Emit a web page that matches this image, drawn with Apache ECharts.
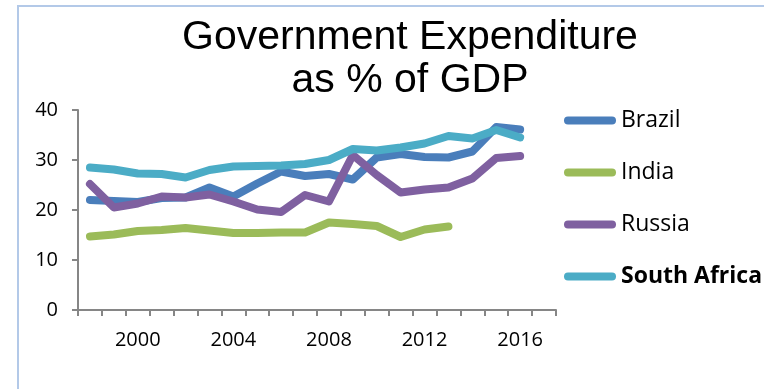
<!DOCTYPE html>
<html>
<head>
<meta charset="utf-8">
<script src="https://cdn.jsdelivr.net/npm/echarts@6/dist/echarts.min.js"></script>
<style>
  html, body { margin: 0; padding: 0; background: #fff; }
  #chart { width: 764px; height: 389px; }
</style>
</head>
<body>
<div id="chart"></div>
<script>
// categories (1998 - 2017, last slot is empty)
const years = ["1998", "1999", "2000", "2001", "2002", "2003", "2004", "2005", "2006", "2007",
  "2008", "2009", "2010", "2011", "2012", "2013", "2014", "2015", "2016", "2017"];

const brazil = [22.0, 21.8, 21.6, 22.4, 22.5, 24.5, 22.7, 25.3, 27.7, 26.8,
  27.2, 26.1, 30.5, 31.2, 30.6, 30.5, 31.7, 36.6, 36.1, null];
const india = [14.7, 15.1, 15.8, 16.0, 16.4, 15.9, 15.4, 15.4, 15.5, 15.5,
  17.5, 17.2, 16.8, 14.6, 16.1, 16.7, null, null, null, null];
const russia = [25.2, 20.5, 21.3, 22.7, 22.5, 23.1, 21.7, 20.1, 19.6, 23.0,
  21.7, 31.0, 27.0, 23.5, 24.1, 24.5, 26.3, 30.4, 30.8, null];
const southAfrica = [28.5, 28.1, 27.3, 27.2, 26.5, 28.0, 28.7, 28.8, 28.9, 29.2,
  30.0, 32.2, 31.9, 32.5, 33.3, 34.8, 34.3, 36.0, 34.5, null];

const yTicks = { min: 0, max: 40, step: 10 };
const labelYears = ["2000", "2004", "2008", "2012", "2016"];

const colors = ["#4a7ebb", "#9bbb59", "#7f60a0", "#4bacc6"];

const chart = echarts.init(document.getElementById("chart"));

function lineSeries(name, data, i) {
  return {
    name: name,
    type: "line",
    data: data,
    symbol: "none",
    color: colors[i],
    lineStyle: { width: 8, color: colors[i], cap: "round", join: "round" },
  };
}

chart.setOption({
  animation: false,
  backgroundColor: "#fff",
  textStyle: { fontFamily: "Open Sans" },

  title: {
    text: "Government Expenditure\nas % of GDP",
    left: 405,
    top: 11,
    textAlign: "center",
    textStyle: {
      fontFamily: "Liberation Sans",
      fontSize: 41,
      fontWeight: "normal",
      color: "#000",
      lineHeight: 43,
    },
  },

  graphic: [
    {
      type: "rect",
      shape: { x: 18, y: 6, width: 900, height: 600 },
      style: { fill: "none", stroke: "#b3c9e8", lineWidth: 2 },
      silent: true,
    },
  ],

  legend: {
    orient: "vertical",
    left: 564,
    top: 109,
    padding: 0,
    itemWidth: 52,
    itemHeight: 8,
    itemGap: 29,
    icon: "path://M4,0H48A4,4,0,0,1,48,8H4A4,4,0,0,1,4,0Z",
    textStyle: { fontFamily: "Open Sans", fontSize: 23, color: "#000" },
    data: [
      "Brazil",
      "India",
      "Russia",
      { name: "South Africa", textStyle: { fontWeight: "bold" } },
    ],
  },

  grid: { left: 78, right: 208, top: 110, bottom: 79 },

  xAxis: {
    type: "category",
    data: years,
    boundaryGap: true,
    axisLine: { lineStyle: { color: "#868686", width: 2 } },
    axisTick: { show: true, interval: 0, length: 6, lineStyle: { color: "#868686", width: 2 } },
    axisLabel: {
      interval: (idx, val) => labelYears.includes(val),
      color: "#000",
      fontSize: 20,
      margin: 20,
    },
    splitLine: { show: false },
  },

  yAxis: {
    type: "value",
    min: yTicks.min,
    max: yTicks.max,
    interval: yTicks.step,
    axisLine: { show: true, lineStyle: { color: "#868686", width: 2 } },
    axisTick: { show: true, length: 6, lineStyle: { color: "#868686", width: 2 } },
    axisLabel: { color: "#000", fontSize: 20, margin: 20 },
    splitLine: { show: false },
  },

  series: [
    lineSeries("Brazil", brazil, 0),
    lineSeries("India", india, 1),
    lineSeries("Russia", russia, 2),
    lineSeries("South Africa", southAfrica, 3),
  ],
});

window.addEventListener("resize", () => chart.resize());
</script>
</body>
</html>
